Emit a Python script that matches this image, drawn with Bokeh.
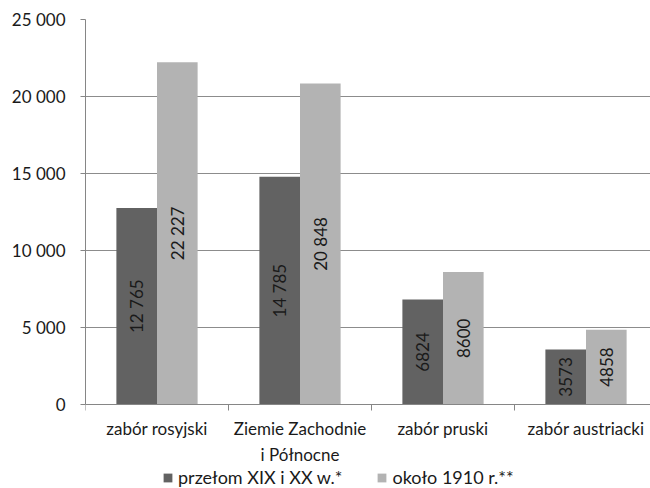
from math import pi
from bokeh.plotting import figure
from bokeh.models import Range1d, FixedTicker, Legend, LegendItem, ColumnDataSource
from bokeh.core.properties import value
from bokeh.embed import file_html
from bokeh.resources import INLINE

# ---- data ----
categories = ["zabór rosyjski", "Ziemie Zachodnie\ni Północne", "zabór pruski", "zabór austriacki"]
series_names = ["przełom XIX i XX w.*", "około 1910 r.**"]
values_1900 = [12765, 14785, 6824, 3573]
values_1910 = [22227, 20848, 8600, 4858]
labels_1900 = ["12 765", "14 785", "6824", "3573"]
labels_1910 = ["22 227", "20 848", "8600", "4858"]
y_ticks = [0, 5000, 10000, 15000, 20000, 25000]
y_tick_labels = ["0", "5 000", "10 000", "15 000", "20 000", "25 000"]

# ---- layout constants ----
FONT = "Lato"
FS = "17px"
BAR_W = 0.284
DARK = "#626262"
LIGHT = "#b3b3b3"
AXIS_COL = "#868686"
TXT = "#1a1a1a"
Y_MAX = 25000
Y_MIN = -5455   # room below the baseline (inside the frame) for labels and legend

n = len(categories)
centers = [i + 0.5 for i in range(n)]
x_dark = [c - BAR_W / 2 for c in centers]
x_light = [c + BAR_W / 2 for c in centers]

src1 = ColumnDataSource(dict(x=x_dark, top=values_1900, mid=[v / 2 for v in values_1900], lab=labels_1900))
src2 = ColumnDataSource(dict(x=x_light, top=values_1910, mid=[v / 2 for v in values_1910], lab=labels_1910))

p = figure(width=650, height=488, output_backend="svg", toolbar_location=None,
           x_range=Range1d(0, 3.951), y_range=Range1d(Y_MIN, Y_MAX),
           min_border_left=85, min_border_right=0, min_border_top=19, min_border_bottom=0)
p.outline_line_color = None
p.xgrid.visible = False
p.ygrid.ticker = FixedTicker(ticks=y_ticks)
p.ygrid.grid_line_color = "#8c8c8c"
p.ygrid.grid_line_width = 1

r1 = p.vbar(x="x", top="top", bottom=0, width=BAR_W, source=src1, fill_color=DARK, line_color=None)
r2 = p.vbar(x="x", top="top", bottom=0, width=BAR_W, source=src2, fill_color=LIGHT, line_color=None)

for s in (src1, src2):
    p.text(x="x", y="mid", text="lab", source=s, angle=pi / 2, text_align="center",
           text_baseline="middle", text_font=value(FONT), text_font_size=FS, text_color=TXT)

# y axis
ya = p.yaxis[0]
ya.ticker = FixedTicker(ticks=y_ticks)
ya.bounds = (0, Y_MAX)
ya.major_label_overrides = {t: l for t, l in zip(y_ticks, y_tick_labels)}
ya.axis_line_color = AXIS_COL
ya.major_tick_line_color = AXIS_COL
ya.major_tick_out = 5
ya.major_tick_in = 0
ya.minor_tick_line_color = None
ya.major_label_standoff = 15
ya.major_label_text_font = FONT
ya.major_label_text_font_size = FS
ya.major_label_text_color = TXT

# x axis, drawn at the zero baseline
xa = p.xaxis[0]
xa.fixed_location = 0
xa.ticker = FixedTicker(ticks=centers, minor_ticks=list(range(n + 1)))
xa.major_label_overrides = {c: lab for c, lab in zip(centers, categories)}
xa.axis_line_color = AXIS_COL
xa.major_tick_line_color = None
xa.minor_tick_line_color = AXIS_COL
xa.minor_tick_out = 6
xa.minor_tick_in = 0
xa.major_label_standoff = 8
xa.major_label_text_font = FONT
xa.major_label_text_font_size = FS
xa.major_label_text_color = TXT

legend = Legend(items=[LegendItem(label=series_names[0], renderers=[r1]),
                       LegendItem(label=series_names[1], renderers=[r2])],
                orientation="horizontal", location=(77, 0),
                glyph_width=11, glyph_height=11, label_standoff=5, spacing=34,
                padding=0, margin=0, border_line_color=None, background_fill_alpha=0,
                label_text_font=FONT, label_text_font_size="18px", label_text_color=TXT)
p.add_layout(legend, "center")

open("out.html", "w").write(file_html(p, INLINE))
